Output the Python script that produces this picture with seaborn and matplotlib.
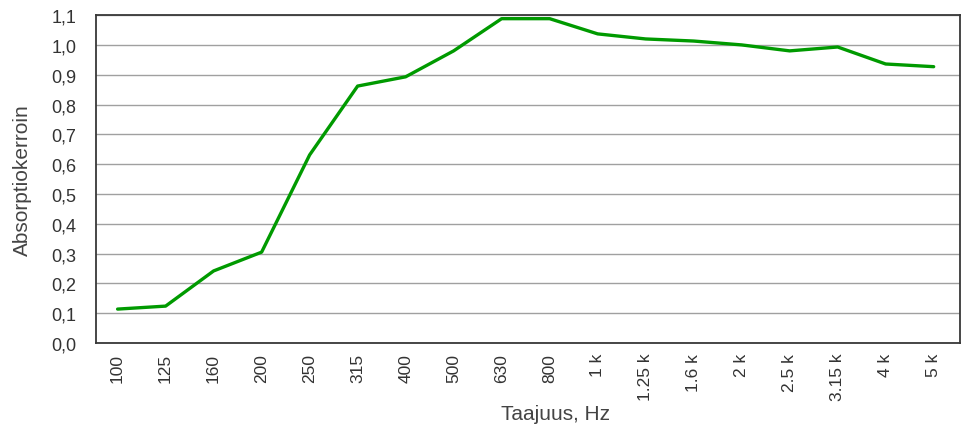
import matplotlib
matplotlib.use("Agg")
import matplotlib.pyplot as plt
import seaborn as sns
import pandas as pd

frequencies = ["100", "125", "160", "200", "250", "315", "400", "500", "630", "800",
               "1 k", "1.25 k", "1.6 k", "2 k", "2.5 k", "3.15 k", "4 k", "5 k"]
absorption = [0.114, 0.124, 0.242, 0.305, 0.631, 0.862, 0.893, 0.980, 1.088, 1.088,
              1.037, 1.020, 1.013, 1.000, 0.980, 0.993, 0.936, 0.927]
y_ticks = [0.0, 0.1, 0.2, 0.3, 0.4, 0.5, 0.6, 0.7, 0.8, 0.9, 1.0, 1.1]
y_tick_labels = [f"{v:.1f}".replace(".", ",") for v in y_ticks]

sns.set_style("white")
plt.rcParams["font.family"] = ["Liberation Sans", "DejaVu Sans"]

df = pd.DataFrame({"Taajuus": frequencies, "Absorptiokerroin": absorption})

fig = plt.figure(figsize=(9.62, 4.35), dpi=100)
ax = fig.add_axes([0.0998, 0.209, 0.8982, 0.754])

sns.lineplot(data=df, x="Taajuus", y="Absorptiokerroin", sort=False,
             color="#009a00", linewidth=2.4, ax=ax, zorder=3)

ax.set_xlim(-0.45, len(frequencies) - 0.45)
ax.set_ylim(0, 1.1)
ax.set_yticks(y_ticks)
ax.set_yticklabels(y_tick_labels)
ax.set_xticks(range(len(frequencies)))
ax.set_xticklabels(frequencies, rotation=90)

ax.yaxis.grid(True, color="#a0a0a0", linewidth=1.0, zorder=0)
ax.xaxis.grid(False)
for s in ax.spines.values():
    s.set_color("#383838")
    s.set_linewidth(1.3)

ax.tick_params(axis="both", length=0, labelsize=13, colors="#333333")
ax.tick_params(axis="x", labelsize=12.5, pad=7)
ax.tick_params(axis="y", pad=14)
ax.set_xlabel("Taajuus, Hz", fontsize=15, color="#444444", labelpad=8)
ax.xaxis.set_label_coords(0.532, -0.185)
ax.set_ylabel("Absorptiokerroin", fontsize=15, color="#444444", labelpad=14)

fig.savefig("out.png", dpi=100)
